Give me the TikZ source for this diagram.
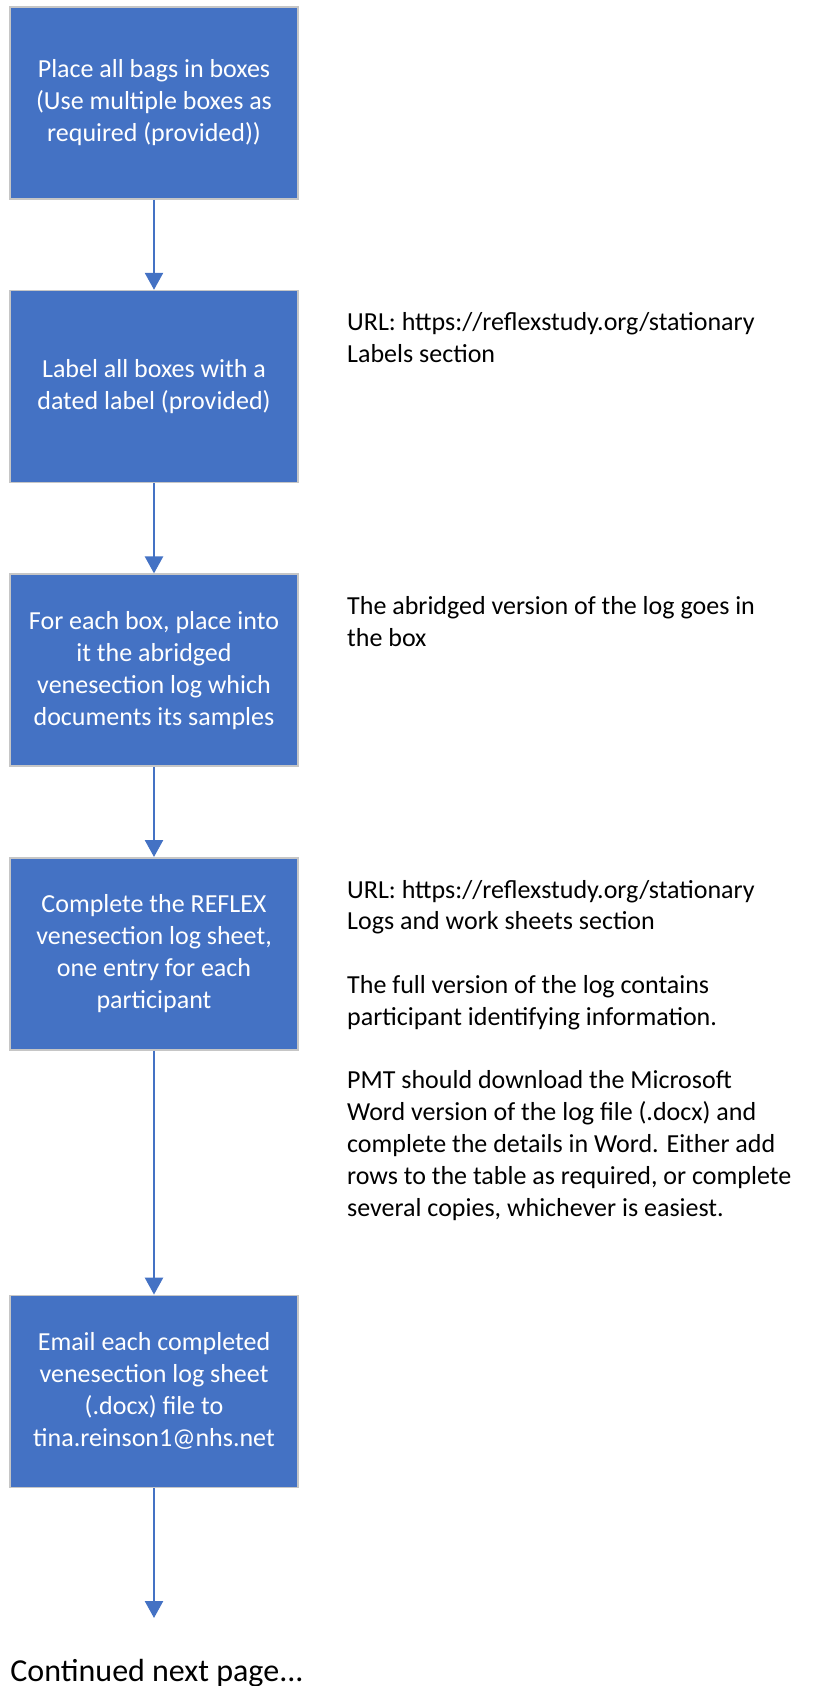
\documentclass[tikz,border=0pt]{standalone}
\usepackage{fontspec}
\setmainfont{Carlito}
\usetikzlibrary{arrows.meta}
\usetikzlibrary{positioning}

\definecolor{stepblue}{HTML}{4472C4}

\begin{document}
\begin{tikzpicture}
                [every node/.style={inner sep=0pt},
                 stepbox/.style={rectangle, draw=gray!45, line width=0.8pt, fill=stepblue,
                   text=white, align=center, minimum width=144pt, minimum height=96pt,
                   font=\fontsize{13}{16}\selectfont},
                 note/.style={anchor=north west, align=left, text=black,
                   font=\fontsize{13}{15.9}\selectfont},
                 flow/.style={draw=stepblue, line width=1.25pt,
                   -{Triangle[width=9pt,length=8.5pt]}},
                 node distance=45pt]
                \useasboundingbox (0,0) rectangle (409pt,-843pt);
                \node (b1) [stepbox] at (77pt,-51.5pt) {Place all bags in boxes\\(Use multiple boxes as\\required (provided))};
                \node (b2) [stepbox, below=of b1] {Label all boxes with a\\dated label (provided)};
                \node (b3) [stepbox, below=of b2] {For each box, place into\\it the abridged\\venesection log which\\documents its samples};
                \node (b4) [stepbox, below=of b3] {Complete the REFLEX\\venesection log sheet,\\one entry for each\\participant};
                \node (b5) [stepbox, below=122pt of b4] {Email each completed\\venesection log sheet\\(.docx) file to\\tina.reinson1@nhs.net};
                \coordinate (end) at (77pt,-809pt);
                \node (n2) [note] at ([xshift=24pt,yshift=-11.3pt]b2.north east) {URL: https://reflexstudy.org/stationary\\Labels section};
                \node (n3) [note] at ([xshift=24pt,yshift=-11.3pt]b3.north east) {The abridged version of the log goes in\\the box};
                \node (n4) [note] at ([xshift=24pt,yshift=-11.3pt]b4.north east) {URL: https://reflexstudy.org/stationary\\Logs and work sheets section\\[15.9pt]The full version of the log contains\\participant identifying information.\\[15.9pt]PMT should download the Microsoft\\Word version of the log file (.docx) and\\complete the details in Word. Either add\\rows to the table as required, or complete\\several copies, whichever is easiest.};
                \node (cont) [anchor=west, font=\fontsize{16}{19}\selectfont] at (5pt,-836.5pt) {Continued next page...};
                \draw [flow] (b1) -- (b2);
                \draw [flow] (b2) -- (b3);
                \draw [flow] (b3) -- (b4);
                \draw [flow] (b4) -- (b5);
                \draw [flow] (b5) -- (end);
            \end{tikzpicture}
\end{document}
